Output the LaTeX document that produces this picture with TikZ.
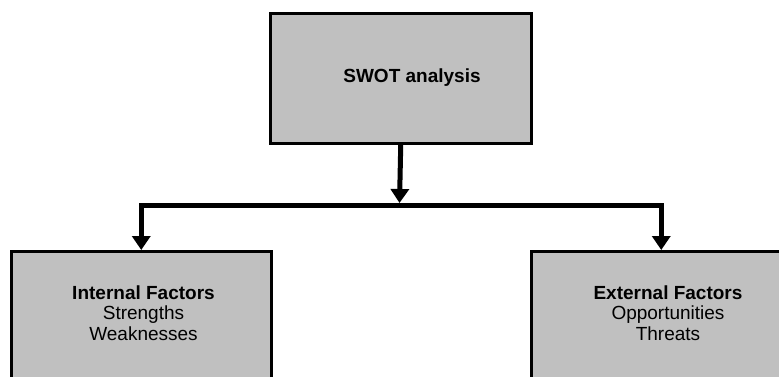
\documentclass[tikz,border=0pt]{standalone}
\usepackage{fontspec}
\setmainfont{Liberation Sans}
\usetikzlibrary{arrows.meta,shadows}
\definecolor{boxgray}{RGB}{192,192,192}
\tikzset{
  x=1pt, y=-1pt,
  box/.style={draw=black, line width=2.5pt, fill=boxgray, inner sep=0pt,
    drop shadow={shadow xshift=2pt, shadow yshift=-2pt, opacity=0.35, fill=black}},
  lbl/.style={align=center, inner sep=0pt, font=\fontsize{19}{20.5}\selectfont},
  conn/.style={line width=5pt, line join=miter},
  >={Triangle[width=18pt,length=14pt]}
}
\begin{document}
\begin{tikzpicture}
\useasboundingbox (0,0) rectangle (779,376);
\begin{scope}
\clip (0,0) rectangle (779,376);
% boxes
\node[box, minimum width=261pt, minimum height=130pt, anchor=north west] (swot) at (269,12) {};
\node[box, minimum width=260pt, minimum height=170pt, anchor=north west] (int) at (10,250) {};
\node[box, minimum width=260pt, minimum height=170pt, anchor=north west] (ext) at (530,250) {};
\end{scope}
% labels
\node[lbl, font=\fontsize{19}{20.5}\selectfont\bfseries, anchor=base] (swottxt) at (412,82) {SWOT analysis};
\node[lbl, anchor=north] (inttxt) at (143.5,285.5) {\textbf{Internal Factors}\\Strengths\\Weaknesses};
\node[lbl, anchor=north] (exttxt) at (668,285.5) {\textbf{External Factors}\\Opportunities\\Threats};
% connectors
\coordinate (bus) at (399.5,205.5);
\coordinate (bustop) at (399.5,203);
\draw[conn, ->] (swot.south) -- (bustop);
\draw[conn, <->] (int.north) |- (bus) -| (ext.north);
\end{tikzpicture}
\end{document}
